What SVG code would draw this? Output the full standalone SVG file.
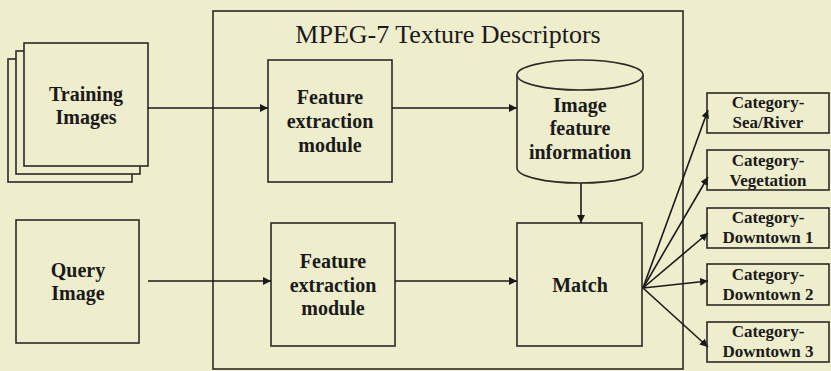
<svg xmlns="http://www.w3.org/2000/svg" width="831" height="371" viewBox="0 0 831 371">
<style>
.bx{fill:#EEEDCC;stroke:#2a2a2a;stroke-width:1.6}
.ln{fill:none;stroke:#1a1a1a;stroke-width:1.6}
.t{font-family:"Liberation Serif","Times New Roman",serif;font-weight:bold;font-size:20px;fill:#1a1a1a;text-anchor:middle}
.c{font-family:"Liberation Serif","Times New Roman",serif;font-weight:bold;font-size:17px;fill:#1a1a1a;text-anchor:middle}
.h{font-family:"Liberation Serif","Times New Roman",serif;font-size:26px;fill:#1a1a1a;text-anchor:middle}
</style>
<defs>
<marker id="ah" viewBox="0 0 10 10" refX="10" refY="5" markerWidth="8" markerHeight="8" markerUnits="userSpaceOnUse" orient="auto">
<path d="M0,0 L10,5 L0,10 z" fill="#1a1a1a"/>
</marker>
</defs>
<rect x="0" y="0" width="831" height="371" fill="#EEEDCC"/>
<g id="mpeg7">
<rect class="bx" x="213" y="11" width="470" height="358"/>
<text class="h" x="448" y="43">MPEG-7 Texture Descriptors</text>
</g>
<g id="training">
<rect class="bx" x="8" y="59" width="124" height="123"/>
<rect class="bx" x="16" y="51" width="124" height="123"/>
<rect class="bx" x="24" y="43" width="124" height="123"/>
<text class="t" x="86" y="101">Training</text>
<text class="t" x="86" y="124">Images</text>
</g>
<g id="fe1">
<rect class="bx" x="268" y="60" width="124" height="122"/>
<text class="t" x="330" y="104">Feature</text>
<text class="t" x="330" y="128">extraction</text>
<text class="t" x="330" y="152">module</text>
</g>
<g id="db">
<path class="bx" d="M517,75 L517,168 A63,15 0 0 0 643,168 L643,75"/>
<ellipse class="bx" cx="580" cy="75" rx="63" ry="15"/>
<text class="t" x="580" y="112">Image</text>
<text class="t" x="580" y="135">feature</text>
<text class="t" x="580" y="159">information</text>
</g>
<g id="query">
<rect class="bx" x="16" y="220" width="123" height="123"/>
<text class="t" x="78" y="277">Query</text>
<text class="t" x="78" y="300">Image</text>
</g>
<g id="fe2">
<rect class="bx" x="271" y="223" width="124" height="123"/>
<text class="t" x="333" y="268">Feature</text>
<text class="t" x="333" y="292">extraction</text>
<text class="t" x="333" y="315">module</text>
</g>
<g id="match">
<rect class="bx" x="517" y="223" width="125" height="123"/>
<text class="t" x="580" y="292">Match</text>
</g>
<g id="cat1">
<rect class="bx" x="707" y="93" width="122" height="40"/>
<text class="c" x="768" y="108">Category-</text>
<text class="c" x="768" y="128">Sea/River</text>
</g>
<g id="cat2">
<rect class="bx" x="707" y="150" width="122" height="40"/>
<text class="c" x="768" y="166">Category-</text>
<text class="c" x="768" y="186">Vegetation</text>
</g>
<g id="cat3">
<rect class="bx" x="707" y="208" width="122" height="40"/>
<text class="c" x="768" y="223">Category-</text>
<text class="c" x="768" y="243">Downtown 1</text>
</g>
<g id="cat4">
<rect class="bx" x="707" y="264" width="122" height="41"/>
<text class="c" x="768" y="280">Category-</text>
<text class="c" x="768" y="300">Downtown 2</text>
</g>
<g id="cat5">
<rect class="bx" x="707" y="322" width="122" height="40"/>
<text class="c" x="768" y="337">Category-</text>
<text class="c" x="768" y="357">Downtown 3</text>
</g>
<g id="connectors">
<line class="ln" x1="148" y1="108" x2="268" y2="108" marker-end="url(#ah)"/>
<line class="ln" x1="392" y1="108" x2="517" y2="108" marker-end="url(#ah)"/>
<line class="ln" x1="581" y1="183" x2="581" y2="223" marker-end="url(#ah)"/>
<line class="ln" x1="148" y1="281" x2="271" y2="281" marker-end="url(#ah)"/>
<line class="ln" x1="395" y1="281" x2="517" y2="281" marker-end="url(#ah)"/>
<line class="ln" x1="643" y1="288" x2="708" y2="110" marker-end="url(#ah)"/>
<line class="ln" x1="643" y1="288" x2="708" y2="177" marker-end="url(#ah)"/>
<line class="ln" x1="643" y1="288" x2="708" y2="233" marker-end="url(#ah)"/>
<line class="ln" x1="643" y1="288" x2="708" y2="281" marker-end="url(#ah)"/>
<line class="ln" x1="643" y1="288" x2="708" y2="347" marker-end="url(#ah)"/>
</g>
</svg>
